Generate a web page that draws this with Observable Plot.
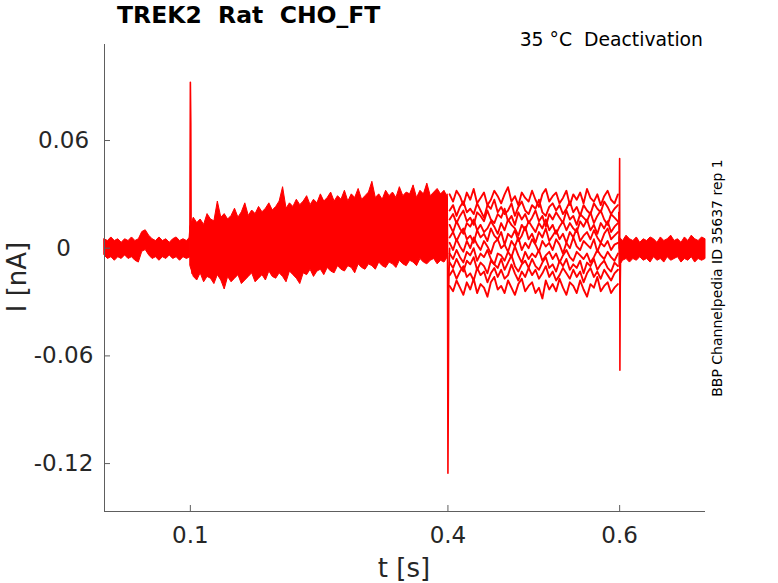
<!DOCTYPE html>
<html><head><meta charset="utf-8">
<script src="https://cdn.jsdelivr.net/npm/d3@7"></script>
<script src="https://cdn.jsdelivr.net/npm/@observablehq/plot@0.6"></script>
<style>
body{margin:0;background:#fff;font-family:"DejaVu Sans",sans-serif;}
#wrap{position:relative;width:778px;height:583px;overflow:hidden;}
#wrap svg{position:absolute;left:0;top:0;}
.t{position:absolute;white-space:pre;color:#000;line-height:1;}
</style></head><body><div id="wrap"></div>
<script>
// ---- axes / labels ----
const titleText = "TREK2  Rat  CHO_FT";
const condText = "35 °C  Deactivation";
const sideText = "BBP Channelpedia ID 35637 rep 1";
const xLabel = "t [s]";
const yLabel = "I [nA]";
const xDomain = [0, 0.7];
const yDomain = [-0.1467, 0.1135];
const xTicks = [0.1, 0.4, 0.6];
const yTicks = [-0.12, -0.06, 0, 0.06];
const tStep = 0.004;

// ---- segment A: holding, 0 - 0.1 s (envelope of all sweeps) ----
const hiA = [0.005,0.004,0.006,0.004,0.005,0.003,0.005,0.004,0.006,0.004,0.005,0.009,0.010,0.007,0.005,0.004,0.006,0.004,0.005,0.003,0.005,0.006,0.004,0.005,0.004,0.006];
const loA = [-0.004,-0.006,-0.005,-0.007,-0.005,-0.006,-0.004,-0.006,-0.005,-0.007,-0.008,-0.002,-0.001,-0.004,-0.006,-0.005,-0.007,-0.005,-0.006,-0.004,-0.006,-0.005,-0.007,-0.005,-0.006,-0.005];

// ---- segment B: activation step, 0.1 - 0.4 s (envelope) ----
const hiB = [0.012,0.017,0.014,0.016,0.013,0.019,0.016,0.015,0.026,0.017,
  0.019,0.016,0.018,0.022,0.017,0.020,0.025,0.018,0.021,0.019,
  0.023,0.020,0.022,0.025,0.021,0.023,0.026,0.034,0.022,0.025,
  0.023,0.027,0.024,0.026,0.029,0.024,0.027,0.025,0.030,0.026,
  0.028,0.031,0.026,0.029,0.027,0.032,0.026,0.030,0.028,0.033,
  0.027,0.029,0.031,0.037,0.028,0.030,0.027,0.032,0.029,0.031,
  0.028,0.034,0.029,0.031,0.030,0.035,0.028,0.032,0.030,0.036,
  0.029,0.031,0.033,0.030,0.032,0.028];
const loB = [-0.010,-0.016,-0.018,-0.014,-0.019,-0.016,-0.017,-0.020,-0.015,-0.018,
  -0.023,-0.016,-0.019,-0.017,-0.015,-0.020,-0.018,-0.016,-0.014,-0.019,
  -0.017,-0.015,-0.018,-0.013,-0.016,-0.017,-0.014,-0.016,-0.019,-0.013,
  -0.015,-0.017,-0.020,-0.014,-0.015,-0.012,-0.016,-0.013,-0.012,-0.015,
  -0.011,-0.013,-0.014,-0.010,-0.012,-0.013,-0.010,-0.011,-0.014,-0.009,
  -0.011,-0.012,-0.009,-0.010,-0.012,-0.008,-0.010,-0.011,-0.008,-0.009,
  -0.011,-0.007,-0.009,-0.010,-0.007,-0.008,-0.010,-0.006,-0.008,-0.009,
  -0.007,-0.006,-0.009,-0.007,-0.008,-0.005];

// ---- segment C: deactivation steps, 0.402 - 0.598 s (one trace per sweep) ----
const sweep1 = [0.030,0.026,0.032,0.029,0.024,0.031,0.027,0.033,0.025,0.028,0.031,0.024,0.027,0.032,0.029,0.025,0.030,0.034,0.026,0.029,0.024,0.031,0.028,0.026,0.032,0.027,0.023,0.030,0.033,0.026,0.029,0.031,0.025,0.028,0.032,0.024,0.030,0.027,0.031,0.025,0.033,0.028,0.026,0.030,0.024,0.029,0.032,0.027,0.025,0.030];
const sweep2 = [0.021,0.024,0.018,0.023,0.026,0.020,0.022,0.019,0.025,0.021,0.017,0.024,0.022,0.027,0.020,0.023,0.019,0.021,0.025,0.018,0.023,0.026,0.021,0.019,0.024,0.022,0.027,0.020,0.018,0.023,0.025,0.021,0.024,0.019,0.022,0.026,0.020,0.023,0.018,0.024,0.021,0.019,0.025,0.022,0.020,0.026,0.023,0.019,0.022,0.024];
const sweep3 = [0.016,0.019,0.014,0.018,0.021,0.015,0.017,0.013,0.020,0.018,0.015,0.021,0.016,0.014,0.019,0.017,0.022,0.015,0.018,0.013,0.020,0.016,0.019,0.014,0.017,0.021,0.015,0.018,0.012,0.019,0.016,0.020,0.017,0.014,0.021,0.016,0.018,0.013,0.019,0.017,0.015,0.020,0.014,0.018,0.021,0.016,0.013,0.019,0.017,0.015];
const sweep4 = [0.013,0.009,0.015,0.011,0.008,0.014,0.012,0.016,0.010,0.013,0.009,0.011,0.015,0.012,0.008,0.014,0.010,0.016,0.013,0.011,0.007,0.013,0.010,0.015,0.012,0.009,0.014,0.011,0.016,0.010,0.013,0.008,0.012,0.015,0.010,0.014,0.011,0.009,0.015,0.012,0.016,0.010,0.013,0.008,0.014,0.011,0.015,0.009,0.012,0.014];
const sweep5 = [0.006,0.009,0.004,0.008,0.011,0.005,0.007,0.003,0.010,0.006,0.008,0.004,0.011,0.007,0.005,0.009,0.002,0.008,0.006,0.010,0.004,0.007,0.012,0.005,0.008,0.003,0.009,0.006,0.011,0.004,0.007,0.010,0.005,0.008,0.003,0.009,0.006,0.011,0.004,0.007,0.009,0.005,0.010,0.006,0.003,0.008,0.011,0.005,0.007,0.009];
const sweep6 = [0.003,-0.001,0.005,0.001,-0.002,0.004,0.000,0.006,0.002,-0.001,0.004,0.001,-0.003,0.003,0.005,0.000,0.002,-0.002,0.004,0.001,0.006,-0.001,0.003,0.000,0.005,0.002,-0.002,0.004,0.001,0.003,-0.001,0.005,0.002,-0.003,0.003,0.000,0.006,0.001,-0.001,0.004,0.002,0.000,0.005,-0.002,0.003,0.001,0.004,-0.001,0.002,0.003];
const sweep7 = [-0.003,-0.006,-0.001,-0.005,-0.008,-0.002,-0.004,0.000,-0.007,-0.003,-0.005,-0.001,-0.006,-0.009,-0.003,-0.004,-0.007,-0.002,-0.005,0.001,-0.004,-0.008,-0.002,-0.006,-0.003,-0.005,-0.001,-0.007,-0.004,-0.002,-0.006,-0.003,-0.008,-0.004,-0.001,-0.005,-0.007,-0.002,-0.004,-0.006,-0.003,-0.008,-0.005,-0.001,-0.004,-0.006,-0.002,-0.005,-0.007,-0.003];
const sweep8 = [-0.008,-0.011,-0.006,-0.010,-0.013,-0.007,-0.009,-0.005,-0.012,-0.008,-0.010,-0.014,-0.007,-0.009,-0.011,-0.006,-0.012,-0.008,-0.004,-0.010,-0.013,-0.009,-0.007,-0.011,-0.006,-0.010,-0.012,-0.008,-0.005,-0.011,-0.009,-0.013,-0.007,-0.010,-0.006,-0.012,-0.009,-0.011,-0.007,-0.014,-0.008,-0.010,-0.006,-0.012,-0.009,-0.007,-0.011,-0.013,-0.008,-0.010];
const sweep9 = [-0.015,-0.012,-0.017,-0.013,-0.010,-0.016,-0.014,-0.018,-0.011,-0.015,-0.013,-0.019,-0.014,-0.011,-0.016,-0.012,-0.017,-0.015,-0.009,-0.014,-0.018,-0.013,-0.016,-0.011,-0.015,-0.012,-0.017,-0.014,-0.010,-0.016,-0.013,-0.018,-0.015,-0.011,-0.014,-0.017,-0.012,-0.016,-0.013,-0.019,-0.014,-0.011,-0.016,-0.013,-0.017,-0.012,-0.015,-0.018,-0.014,-0.012];
const sweep10 = [-0.021,-0.024,-0.018,-0.022,-0.026,-0.019,-0.023,-0.017,-0.025,-0.020,-0.022,-0.027,-0.019,-0.016,-0.023,-0.021,-0.025,-0.018,-0.022,-0.026,-0.020,-0.017,-0.024,-0.021,-0.019,-0.025,-0.022,-0.028,-0.018,-0.023,-0.020,-0.024,-0.017,-0.022,-0.026,-0.019,-0.021,-0.025,-0.018,-0.023,-0.027,-0.020,-0.022,-0.016,-0.024,-0.021,-0.019,-0.025,-0.022,-0.020];
const sweepsC = [sweep1,sweep2,sweep3,sweep4,sweep5,sweep6,sweep7,sweep8,sweep9,sweep10];

// ---- segment D: return to holding, 0.6 - 0.7 s (envelope) ----
const hiD = [0.006,0.004,0.007,0.005,0.004,0.006,0.003,0.005,0.004,0.006,0.005,0.003,0.006,0.004,0.005,0.007,0.004,0.005,0.003,0.006,0.004,0.007,0.005,0.004,0.006,0.005];
const loD = [-0.010,-0.007,-0.006,-0.008,-0.006,-0.007,-0.005,-0.007,-0.006,-0.008,-0.005,-0.007,-0.006,-0.008,-0.005,-0.007,-0.006,-0.005,-0.008,-0.006,-0.007,-0.005,-0.008,-0.006,-0.007,-0.006];

// ---- capacitive transients ----
const spike1T = [0.0985,0.0995,0.1000,0.1005,0.1010,0.1020];
const spike1I = [0.004,0.010,0.0925,0.070,-0.006,-0.014];
const spike2T = [0.3990,0.3995,0.4000,0.4005,0.4010,0.4020];
const spike2I = [0.030,0.005,-0.1254,-0.080,-0.020,0.000];
const spike3T = [0.5990,0.5995,0.6000,0.6003,0.6007,0.6012];
const spike3I = [0.020,0.000,0.050,-0.068,-0.020,0.000];

// ---- build tables ----
const envRows = (t0, hi, lo, seg) => hi.map((h, i) => ({t: t0 + i * tStep, hi: h, lo: lo[i], seg}));
const env = [...envRows(0, hiA, loA, "A"), ...envRows(0.1, hiB, loB, "B"), ...envRows(0.6, hiD, loD, "D")];
const traces = sweepsC.flatMap((s, k) => s.map((v, i) => ({t: 0.402 + i * tStep, i: v, sweep: k})));
const spikes = [[spike1T, spike1I], [spike2T, spike2I], [spike3T, spike3I]]
  .flatMap(([T, I], k) => T.map((t, j) => ({t, i: I[j], spike: k})));

const red = "#ff0000";
const axisGray = "#5e5e5e";
const fmt = d => d === 0 ? "0" : String(d);

const chart = Plot.plot({
  width: 778, height: 583,
  marginLeft: 104, marginRight: 73, marginTop: 44, marginBottom: 72,
  style: {fontFamily: "'DejaVu Sans', sans-serif", fontSize: "23px", color: "#262626", background: "white", overflow: "visible"},
  x: {domain: xDomain},
  y: {domain: yDomain},
  marks: [
    Plot.areaY(env, {x: "t", y1: "lo", y2: "hi", z: "seg", fill: red, stroke: red, strokeWidth: 1, curve: "linear"}),
    Plot.line(traces, {x: "t", y: "i", z: "sweep", stroke: red, strokeWidth: 1.9}),
    Plot.line(spikes, {x: "t", y: "i", z: "spike", stroke: red, strokeWidth: 1.6}),
    Plot.ruleX([xDomain[0]], {stroke: axisGray, strokeWidth: 1}),
    Plot.ruleY([yDomain[0]], {stroke: axisGray, strokeWidth: 1}),
    Plot.axisX({ticks: xTicks, tickFormat: fmt, tickSize: -6, tickPadding: 21, label: null, stroke: axisGray, fill: "#262626"}),
    Plot.axisY({ticks: yTicks, tickFormat: fmt, tickSize: -6, tickPadding: 47, textAnchor: "middle", label: null, stroke: axisGray, fill: "#262626"})
  ]
});
const wrap = document.getElementById("wrap");
wrap.appendChild(chart);

function addText(txt, css) {
  const d = document.createElement("div");
  d.className = "t";
  d.textContent = txt;
  Object.assign(d.style, css);
  wrap.appendChild(d);
}
addText(titleText, {left: "117px", top: "4px", fontSize: "23.5px", fontWeight: "bold"});
addText(condText, {right: "75px", top: "31px", fontSize: "18.8px"});
addText(sideText, {left: "717px", top: "278px", fontSize: "14px", transform: "translate(-50%,-50%) rotate(-90deg)"});
addText(xLabel, {left: "404px", top: "568px", fontSize: "26px", color: "#262626", transform: "translate(-50%,-50%)"});
addText(yLabel, {left: "17px", top: "277px", fontSize: "26px", color: "#262626", transform: "translate(-50%,-50%) rotate(-90deg)"});
</script></body></html>
